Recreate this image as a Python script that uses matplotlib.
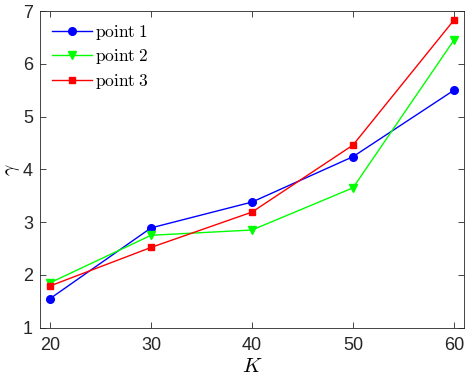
import matplotlib
matplotlib.use("Agg")
import matplotlib.pyplot as plt

K = [20, 30, 40, 50, 60]
point1 = [1.55, 2.89, 3.38, 4.24, 5.50]
point2 = [1.85, 2.75, 2.85, 3.65, 6.45]
point3 = [1.79, 2.52, 3.19, 4.46, 6.83]
labels = [r"$\mathrm{point\;1}$", r"$\mathrm{point\;2}$", r"$\mathrm{point\;3}$"]

plt.rcParams['mathtext.fontset'] = 'cm'
plt.rcParams['font.family'] = ['Liberation Sans', 'DejaVu Sans']

fig = plt.figure(figsize=(4.65, 3.82), dpi=100)
ax = fig.add_axes([0.086, 0.1424, 0.912, 0.8286])

ax.plot(K, point1, color='#0000ff', marker='o', markersize=5.5, lw=1.0, label=labels[0])
ax.plot(K, point2, color='#00ff00', marker='v', markersize=6, lw=1.0, label=labels[1])
ax.plot(K, point3, color='#ff0000', marker='s', markersize=4.5, lw=1.0, label=labels[2])

ax.set_xlim(19, 61)
ax.set_ylim(1, 7)
ax.set_xticks(K)
ax.set_yticks([1, 2, 3, 4, 5, 6, 7])
ax.tick_params(direction='in', top=True, right=True, labelsize=13, colors='#262626',
               length=4, width=0.6)
ax.tick_params(axis='x', pad=7)
ax.tick_params(axis='y', pad=5)
for s in ax.spines.values():
    s.set_color('#262626')
    s.set_linewidth(0.6)

ax.set_xlabel(r"$K$", fontsize=15, labelpad=2)
ax.set_ylabel(r"$\gamma$", fontsize=14, labelpad=1)

leg = ax.legend(loc='upper left', fontsize=12.5, frameon=False, handlelength=2.3,
                handletextpad=0.15, labelspacing=0.3, borderaxespad=0.3)

fig.savefig("out.png", dpi=100)
